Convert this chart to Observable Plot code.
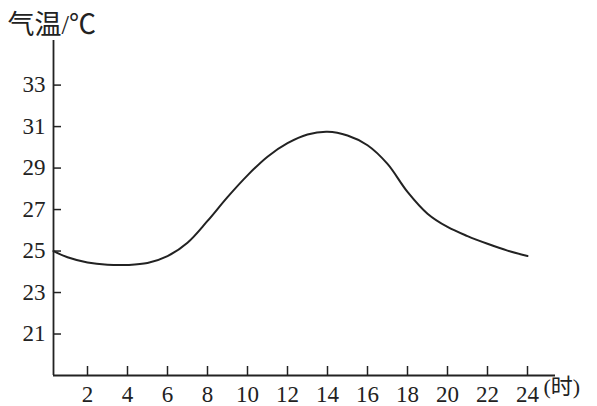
<!DOCTYPE html>
<html>
<head>
<meta charset="utf-8">
<script src="https://cdn.jsdelivr.net/npm/d3@7"></script>
<script src="https://cdn.jsdelivr.net/npm/@observablehq/plot@0.6"></script>
<style>
  html, body { margin: 0; padding: 0; background: #fff; font-family: Liberation Serif, serif; }
  #note { position: absolute; left: 0; bottom: 0; font-size: 1px; color: #fff; }
</style>
</head>
<body>
<div id="chart"></div>
<div id="note">.</div>
<script>
const hours = [0.3, 1, 2, 3, 4, 5, 6, 7, 8, 9, 10, 11, 12, 13, 14, 15, 16, 17, 18, 19, 20, 21, 22, 23, 24];
const temps = [25.0, 24.7, 24.45, 24.34, 24.33, 24.42, 24.75, 25.4, 26.45, 27.6, 28.65, 29.55, 30.2, 30.62, 30.75, 30.57, 30.1, 29.2, 27.85, 26.8, 26.16, 25.72, 25.35, 25.02, 24.76];
const xTicks = [2, 4, 6, 8, 10, 12, 14, 16, 18, 20, 22, 24];
const yTicks = [21, 23, 25, 27, 29, 31, 33];
const xDomain = [0.3, 25.4];
const yDomain = [19, 35.15];
const yTitle = "气温/℃";
const xUnit = "(时)";

const data = hours.map((h, i) => ({h, t: temps[i]}));
const ink = "#222";
const fam = "Liberation Serif, Times New Roman, Noto Sans CJK SC, serif";

const chart = Plot.plot({
  width: 597,
  height: 406,
  marginLeft: 53,
  marginRight: 42,
  marginTop: 40,
  marginBottom: 31,
  style: `font-family: ${fam}; font-size: 22px; color: ${ink}; background: #fff;`,
  x: {domain: xDomain},
  y: {domain: yDomain},
  marks: [
    Plot.axisX(xTicks, {anchor: "bottom", tickSize: -9, tickPadding: 19, fontSize: 23, fontFamily: fam, color: ink, strokeWidth: 1.5, label: null}),
    Plot.axisY(yTicks, {anchor: "left", tickSize: -8, tickPadding: 16, fontSize: 23, fontFamily: fam, color: ink, strokeWidth: 1.5, label: null}),
    Plot.ruleX([xDomain[0]], {stroke: ink, strokeWidth: 1.8}),
    Plot.ruleY([yDomain[0]], {stroke: ink, strokeWidth: 1.8}),
    Plot.line(data, {x: "h", y: "t", curve: "catmull-rom", stroke: ink, strokeWidth: 2}),
    Plot.text([yTitle], {frameAnchor: "top-left", dx: -46, dy: -26, textAnchor: "start", fontSize: 27, fontFamily: fam, fill: ink}),
    Plot.text([xUnit], {frameAnchor: "bottom-right", dx: -12, dy: 18, textAnchor: "start", fontSize: 22, fontFamily: fam, fill: ink})
  ]
});
document.getElementById("chart").appendChild(chart);
</script>
</body>
</html>
